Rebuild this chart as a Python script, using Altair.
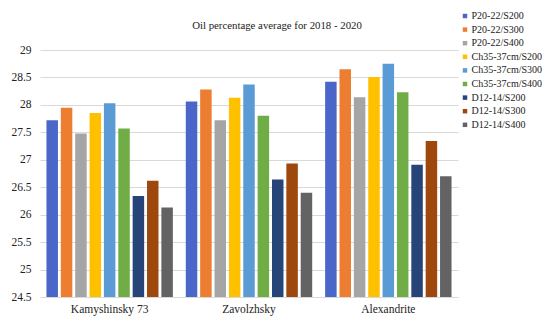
import altair as alt
import pandas as pd

varieties = ["Kamyshinsky 73", "Zavolzhsky", "Alexandrite"]
series = ["P20-22/S200", "P20-22/S300", "P20-22/S400",
          "Ch35-37cm/S200", "Ch35-37cm/S300", "Ch35-37cm/S400",
          "D12-14/S200", "D12-14/S300", "D12-14/S400"]
kamyshinsky = [27.72, 27.95, 27.48, 27.85, 28.03, 27.57, 26.34, 26.62, 26.13]
zavolzhsky = [28.06, 28.28, 27.72, 28.13, 28.37, 27.80, 26.64, 26.93, 26.40]
alexandrite = [28.42, 28.65, 28.14, 28.51, 28.75, 28.23, 26.91, 27.34, 26.70]
colors = ["#4A66C8", "#ED7D31", "#A5A5A5", "#FFC000", "#5B9BD5", "#70AD47",
          "#264478", "#9E480E", "#636363"]
y_ticks = [24.5, 25, 25.5, 26, 26.5, 27, 27.5, 28, 28.5, 29]

rows = []
for v, vals in zip(varieties, [kamyshinsky, zavolzhsky, alexandrite]):
    for s, val in zip(series, vals):
        rows.append({"variety": v, "series": s, "value": val})
df = pd.DataFrame(rows)

FONT = "Times New Roman, Liberation Serif, DejaVu Serif, serif"

chart = alt.Chart(df).mark_bar(clip=True).encode(
    x=alt.X("variety:N", sort=varieties, title=None,
            scale=alt.Scale(paddingInner=0, paddingOuter=0),
            axis=alt.Axis(labelAngle=0, ticks=False, domain=False,
                          labelFont=FONT,
                          labelFontSize=11.5, labelPadding=6, labelColor="#222")),
    xOffset=alt.XOffset("series:N", sort=series,
                        scale=alt.Scale(paddingInner=0.2, paddingOuter=0.45)),
    y=alt.Y("value:Q", title=None,
            scale=alt.Scale(domain=[24.5, 29], zero=False, nice=False),
            axis=alt.Axis(values=y_ticks, ticks=False, domain=False, format="~g",
                          labelFont=FONT,
                          labelFontSize=11.5, labelPadding=9, labelColor="#222",
                          gridColor="#d9d9d9", gridWidth=1)),
    color=alt.Color("series:N", sort=series,
                    scale=alt.Scale(domain=series, range=colors),
                    legend=alt.Legend(title=None, orient="none",
                                      legendX=420, legendY=-39,
                                      symbolType="square", symbolSize=20,
                                      labelFont=FONT,
                                      labelFontSize=10, labelColor="#222",
                                      rowPadding=3.6, padding=0,
                                      symbolStrokeWidth=0, labelOffset=1.5)),
).properties(
    width=418,
    height=247,
    title=alt.Title("Oil percentage average for 2018 - 2020", fontSize=10.8,
                    font=FONT, fontWeight="normal", color="#222",
                    anchor="middle", frame="group", dx=28, offset=-20),
    autosize=alt.AutoSizeParams(type="none"),
    padding={"left": 32, "top": 42, "right": 84, "bottom": 23},
).configure_view(
    stroke=None,
)

chart.save("out.html", embed_options={"renderer": "svg", "actions": False})
